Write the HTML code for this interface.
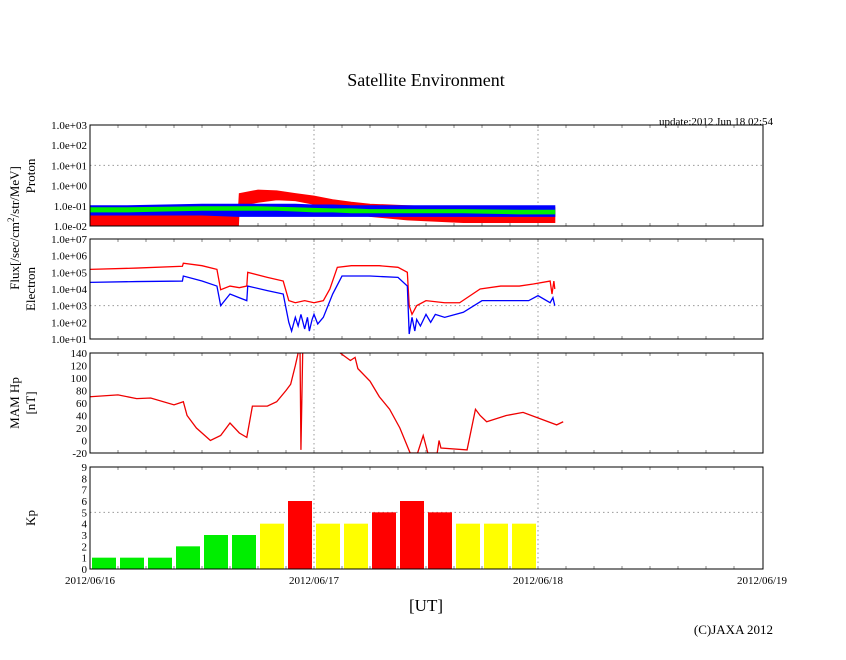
<!DOCTYPE html>
<html><head><meta charset="utf-8"><style>
body{margin:0;background:#fff}
svg text{font-family:"Liberation Serif",serif;fill:#000}
</style></head><body>
<svg id="c" width="846" height="655" xmlns="http://www.w3.org/2000/svg">
<text x="426" y="86" font-size="18" text-anchor="middle">Satellite Environment</text>
<text x="773" y="125" font-size="11" text-anchor="end">update:2012 Jun 18 02:54</text>
<text x="426" y="611" font-size="17" text-anchor="middle">[UT]</text>
<text x="773" y="634" font-size="13" text-anchor="end">(C)JAXA 2012</text>
<text transform="translate(19,228) rotate(-90)" font-size="13" text-anchor="middle">Flux[/sec/cm<tspan font-size="9" dy="-5">2</tspan><tspan dy="5">/str/MeV]</tspan></text>
<text transform="translate(35,176) rotate(-90)" font-size="13" text-anchor="middle">Proton</text>
<text transform="translate(35,289) rotate(-90)" font-size="13" text-anchor="middle">Electron</text>
<text transform="translate(19,403) rotate(-90)" font-size="13" text-anchor="middle">MAM Hp</text>
<text transform="translate(35,403) rotate(-90)" font-size="13" text-anchor="middle">[nT]</text>
<text transform="translate(35,518) rotate(-90)" font-size="13" text-anchor="middle">Kp</text>
</svg>
<script>
const dayLabels=["2012/06/16","2012/06/17","2012/06/18","2012/06/19"];
const protonTicks=["1.0e-02","1.0e-01","1.0e+00","1.0e+01","1.0e+02","1.0e+03"];
const electronTicks=["1.0e+01","1.0e+02","1.0e+03","1.0e+04","1.0e+05","1.0e+06","1.0e+07"];
const mamTicks=[-20,0,20,40,60,80,100,120,140];
const kpTicks=[0,1,2,3,4,5,6,7,8,9];
// proton bands (hours, low, high)
const protonHours=[0,4,8,12,15.9,16,18,20,22,24,26,28,30,34,40,46,49.8];
const protonRedLow=[0.01,0.01,0.01,0.01,0.01,0.1,0.15,0.2,0.18,0.12,0.08,0.05,0.03,0.02,0.015,0.015,0.015];
const protonRedHigh=[0.04,0.05,0.05,0.06,0.06,0.4,0.6,0.55,0.4,0.3,0.2,0.15,0.12,0.1,0.08,0.08,0.08];
const protonBlueLow=[0.035,0.035,0.035,0.035,0.03,0.03,0.03,0.03,0.03,0.03,0.03,0.03,0.03,0.03,0.03,0.03,0.03];
const protonBlueHigh=[0.1,0.1,0.11,0.12,0.12,0.12,0.12,0.12,0.12,0.11,0.11,0.1,0.1,0.1,0.1,0.1,0.1];
const protonGreenLow=[0.05,0.05,0.055,0.06,0.06,0.06,0.06,0.06,0.055,0.05,0.05,0.045,0.045,0.045,0.045,0.04,0.04];
const protonGreenHigh=[0.08,0.08,0.085,0.09,0.09,0.09,0.09,0.085,0.08,0.075,0.07,0.07,0.065,0.065,0.065,0.06,0.06];
// electron
const eRedH=[0,5,9.9,10,12,13.6,14,15,16,16.8,16.9,19,20.7,21.3,22,23,24,25,25.7,26.5,28,31,33,34,34.2,34.5,35,36,38,39.6,41.8,44,46,47.5,49.3,49.5,49.7,49.8];
const eRedV=[1.5e5,1.8e5,2.3e5,3.5e5,2.5e5,1.5e5,9e3,1.5e4,1.2e4,1.5e4,1e5,5e4,3e4,2e3,1.5e3,2e3,1.5e3,2e3,1e4,2e5,2.5e5,2.5e5,2e5,1e5,1e3,3e2,1e3,2e3,1.5e3,1.5e3,1e4,1.5e4,1.5e4,2e4,3e4,5e3,3e4,1e4];
const eBlueH=[0,5,9.9,10,12,13.6,14,15,16,16.8,16.9,19,20.7,21.3,21.6,22,22.3,22.6,23,23.3,23.5,23.8,24,24.4,25,26,27,30,33,34,34.2,34.5,34.8,35,35.4,36,36.5,37,38,40,42,44,47,48,49.3,49.6,49.8];
const eBlueV=[2.5e4,2.8e4,3e4,6e4,3e4,1.5e4,1e3,5e3,3e3,2e3,1.5e4,8e3,5e3,1e2,30,2e2,60,3e2,40,2e2,30,1.5e2,3e2,80,2e2,5e3,6e4,6e4,5e4,1.5e4,20,2e2,30,1.5e2,60,3e2,1e2,3e2,2e2,4e2,2e3,2e3,2e3,4e3,1.5e3,3e3,1e3];
// MAM Hp
const mamH=[0,3,5,6.5,9,10,10.4,11.4,12.9,14,15,16,16.8,17.4,19,20,21,21.5,22,22.3,22.5,22.6,22.8,26.8,27.9,28.4,28.7,30,31,32.1,33.2,34.3,35.1,35.7,36.2,37.2,37.4,37.6,40.4,41.3,41.8,42.5,44.6,46.4,48.2,50,50.7];
const mamV=[70,73,67,68,57,62,40,20,0,8,28,12,5,55,55,62,80,90,120,140,150,-15,150,140,128,133,115,95,70,50,20,-20,-20,8,-20,-20,0,-12,-15,50,40,30,40,45,35,25,30];
// Kp (3-hour bins)
const kpValues=[1,1,1,2,3,3,4,6,4,4,5,6,5,4,4,4];

const NS="http://www.w3.org/2000/svg";
const svg=document.getElementById('c');
const X0=90,X1=763,PXH=224/24;
const xs=h=>X0+h*PXH;
function el(tag,attrs,parent){const e=document.createElementNS(NS,tag);for(const k in attrs)e.setAttribute(k,attrs[k]);(parent||svg).appendChild(e);return e;}
const panels={proton:[125,226],electron:[239,339],mam:[353,453],kp:[467,569]};
const yProton=v=>226-(Math.log10(v)+2)*(101/5);
const yElec=v=>339-(Math.log10(v)-1)*(100/6);
const yMam=v=>453-(v+20)*(100/160);
const yKp=v=>569-v*(102/9);

function frame(name,top,bot,gridY){
  const g=el('g',{});
  
  
  for(const d of [1,2]){const l=el('line',{x1:xs(d*24),x2:xs(d*24),y1:top,y2:bot,stroke:'#999','stroke-dasharray':'1.5,3'},g);
    }
  if(gridY!=null){const l=el('line',{x1:X0,x2:X1,y1:gridY,y2:gridY,stroke:'#999','stroke-dasharray':'1.5,3'},g);
    }
  for(let h=3;h<72;h+=3){el('line',{x1:xs(h),x2:xs(h),y1:top,y2:top+3,stroke:'#888'},g);el('line',{x1:xs(h),x2:xs(h),y1:bot,y2:bot-3,stroke:'#888'},g);}
  return g;
}
function border(name,top,bot){const r=el('rect',{x:X0,y:top,width:X1-X0,height:bot-top,fill:'none',stroke:'#000','stroke-width':1});
  }
function yLabels(name,labels,fy){labels.forEach((t,i)=>{const e=el('text',{x:X0-3,y:fy(i)+4,'font-size':11,'text-anchor':'end'});e.textContent=t;
  });}
function band(name,hours,lo,hi,fy,color){
  let d='M'+hours.map((h,i)=>xs(h)+','+fy(hi[i])).join(' L');
  for(let i=hours.length-1;i>=0;i--)d+=' L'+xs(hours[i])+','+fy(lo[i]);
  const p=el('path',{d:d+'Z',fill:color,stroke:color,'stroke-width':1,'clip-path':'url(#cl-proton)'});
  }
function line(name,hours,vals,fy,color,clip){
  const p=el('polyline',{points:hours.map((h,i)=>xs(h)+','+fy(vals[i])).join(' '),fill:'none',stroke:color,'stroke-width':1.3,'clip-path':clip});
  }
for(const k in panels){const cp=el('clipPath',{id:'cl-'+k});el('rect',{x:X0,y:panels[k][0],width:X1-X0,height:panels[k][1]-panels[k][0]},cp);}

// proton
frame('proton',125,226,yProton(10));
band('proton-red-series',protonHours,protonRedLow,protonRedHigh,yProton,'#ff0000');
band('proton-blue-series',protonHours,protonBlueLow,protonBlueHigh,yProton,'#0000ff');
band('proton-green-series',protonHours,protonGreenLow,protonGreenHigh,yProton,'#00ee00');
border('proton',125,226);
yLabels('proton',protonTicks,i=>yProton(Math.pow(10,i-2)));
// electron
frame('electron',239,339,yElec(1000));
line('electron-red-series',eRedH,eRedV,yElec,'#ff0000','url(#cl-electron)');
line('electron-blue-series',eBlueH,eBlueV,yElec,'#0000ff','url(#cl-electron)');
border('electron',239,339);
yLabels('electron',electronTicks,i=>yElec(Math.pow(10,i+1)));
// mam
frame('mam',353,453,null);
line('mam-hp-series',mamH,mamV,yMam,'#ee0000','url(#cl-mam)');
border('mam',353,453);
mamTicks.forEach(v=>{const e=el('text',{x:X0-3,y:yMam(v)+4,'font-size':11,'text-anchor':'end'});e.textContent=v;
  });
// kp
frame('kp',467,569,yKp(5));
kpValues.forEach((v,i)=>{const c=v>=5?'#ff0000':(v>=4?'#ffff00':'#00ee00');
  const r=el('rect',{x:xs(i*3)+2,y:yKp(v),width:3*PXH-4,height:569-yKp(v),fill:c});
  });
border('kp',467,569);
kpTicks.forEach(v=>{const e=el('text',{x:X0-3,y:yKp(v)+4,'font-size':11,'text-anchor':'end'});e.textContent=v;
  });
dayLabels.forEach((t,i)=>{const e=el('text',{x:xs(i*24),y:584,'font-size':11,'text-anchor':'middle'});e.textContent=t;
  });
</script>
</body></html>
